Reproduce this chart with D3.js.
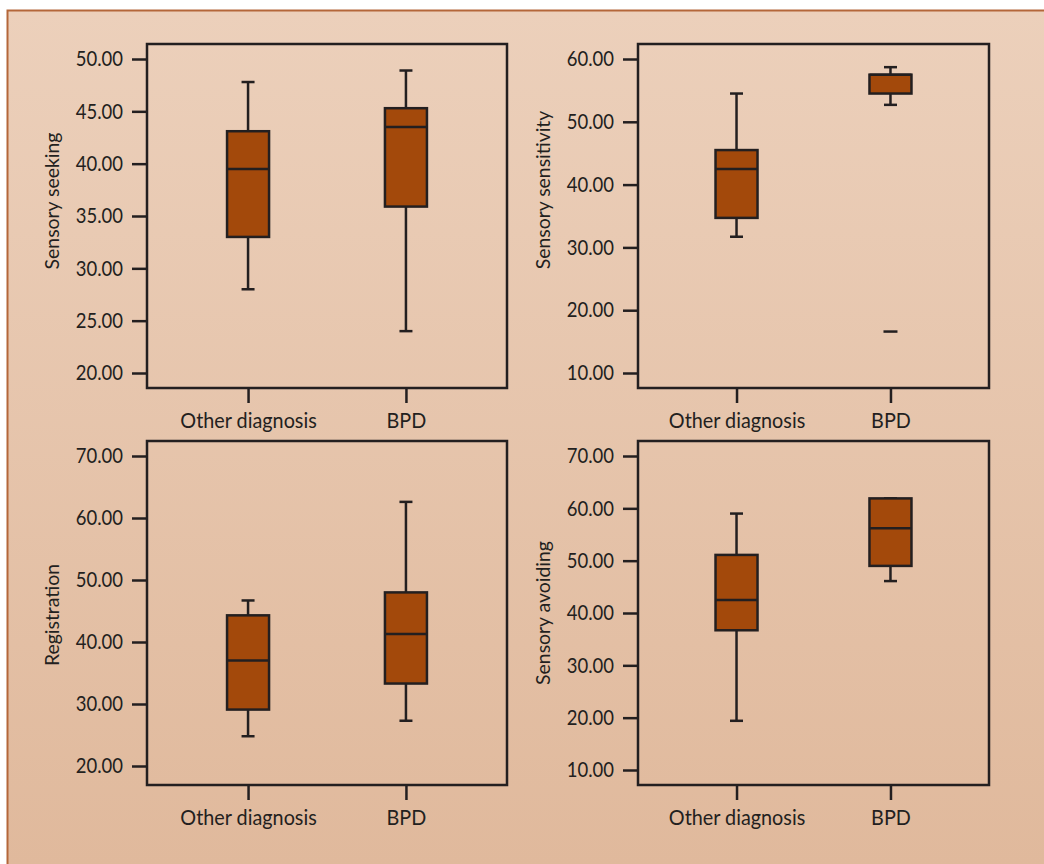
<!DOCTYPE html>
<html>
<head>
<meta charset="utf-8">
<script src="https://cdn.jsdelivr.net/npm/d3@7"></script>
<style>
  body { margin: 0; background: #ffffff; }
  svg { display: block; }
</style>
</head>
<body>
<div id="chart"></div>
<script>
// groups on the x axis of every panel
const groups = ['Other diagnosis', 'BPD']

// box stats per group: [min, q1, median, q3, max]
const seeking = [[28.0, 33.0, 39.5, 43.1, 47.8], [24.0, 35.9, 43.5, 45.3, 48.9]]
const sensitivity = [[31.7, 34.7, 42.5, 45.5, 54.5], [52.7, 54.5, 57.5, 57.5, 58.7]]
const registration = [[24.8, 29.1, 37.0, 44.3, 46.7], [27.3, 33.3, 41.3, 48.0, 62.6]]
const avoiding = [[19.4, 36.7, 42.5, 51.1, 59.0], [46.1, 49.0, 56.2, 61.9, 61.9]]

// outliers per group
const sensitivityOutliers = [[], [16.6]]

// tick values
const seekingTicks = [20, 25, 30, 35, 40, 45, 50]
const sensitivityTicks = [10, 20, 30, 40, 50, 60]
const registrationTicks = [20, 30, 40, 50, 60, 70]
const avoidingTicks = [10, 20, 30, 40, 50, 60, 70]

const W = 1044, H = 864
const ink = '#231f20'
const boxFill = '#a3490b'
const font = 'Lato, "Open Sans", sans-serif'

const panels = [
    {title: 'Sensory seeking', stats: seeking, outliers: [[], []], ticks: seekingTicks,
     x: 147, y: 44, w: 360, h: 344, padT: 15, padB: 15, titleY: 157},
    {title: 'Sensory sensitivity', stats: sensitivity, outliers: sensitivityOutliers, ticks: sensitivityTicks,
     x: 638, y: 44, w: 351, h: 344, padT: 15, padB: 15, titleY: 146},
    {title: 'Registration', stats: registration, outliers: [[], []], ticks: registrationTicks,
     x: 147, y: 441, w: 360, h: 344, padT: 15, padB: 19, titleY: 174},
    {title: 'Sensory avoiding', stats: avoiding, outliers: [[], []], ticks: avoidingTicks,
     x: 638, y: 441, w: 351, h: 344, padT: 15, padB: 15, titleY: 172},
]

const svg = d3.select('#chart').append('svg')
              .attr('width', W)
              .attr('height', H)

const grad = svg.append('defs').append('linearGradient')
                .attr('id', 'bg')
                .attr('x1', 0).attr('y1', 0).attr('x2', 0).attr('y2', 1)
grad.append('stop').attr('offset', '0%').attr('stop-color', '#ecd0bb')
grad.append('stop').attr('offset', '100%').attr('stop-color', '#e0b99c')

svg.append('rect')
   .attr('x', 7).attr('y', 10)
   .attr('width', W - 7).attr('height', H - 10)
   .attr('fill', 'url(#bg)')

svg.append('path')
   .attr('d', `M7.5,${H} L7.5,10.5 L${W},10.5`)
   .attr('fill', 'none')
   .attr('stroke', '#b4673a')
   .attr('stroke-width', 2)

// the original face is a narrow humanist sans, squeeze the glyphs a bit
function condense(sel, k) {
    sel.each(function() {
        const len = this.getComputedTextLength()
        d3.select(this).attr('textLength', len * k).attr('lengthAdjust', 'spacingAndGlyphs')
    })
}

function style_axis(g, size, k) {
    g.select('.domain').remove()
    g.selectAll('.tick line').attr('stroke', ink).attr('stroke-width', 2.5)
    g.selectAll('.tick text')
     .attr('fill', ink)
     .attr('font-family', font)
     .attr('font-size', size)
     .call(condense, k)
}

function draw_panel(p) {
    const g = svg.append('g').attr('transform', `translate(${p.x},${p.y})`)

    const yScale = d3.scaleLinear([p.ticks[0], p.ticks[p.ticks.length - 1]], [p.h - p.padB, p.padT])
    const xScale = d3.scalePoint(groups, [0, p.w]).padding(0.64)

    g.append('g')
     .call(d3.axisLeft(yScale).tickValues(p.ticks).tickFormat(d3.format('.2f')).tickSize(15).tickPadding(9))
     .call(style_axis, 21, 0.88)

    g.append('g')
     .attr('transform', `translate(0,${p.h})`)
     .call(d3.axisBottom(xScale).tickSize(15).tickPadding(9))
     .call(style_axis, 22, 0.9)

    g.append('text')
     .attr('transform', `translate(-95,${p.titleY}) rotate(-90)`)
     .attr('text-anchor', 'middle')
     .attr('dy', '0.35em')
     .attr('fill', ink)
     .attr('font-family', font)
     .attr('font-size', 20)
     .text(p.title)
     .call(condense, 0.97)

    g.append('rect')
     .attr('width', p.w).attr('height', p.h)
     .attr('fill', 'none')
     .attr('stroke', ink)
     .attr('stroke-width', 2.5)

    const boxW = 42, capW = 13
    const box = g.selectAll('.box')
                 .data(p.stats.map((s, i) => ({group: groups[i], s: s, out: p.outliers[i]})))
                 .join('g')
                 .attr('class', 'box')
                 .attr('transform', d => `translate(${xScale(d.group)},0)`)

    // whiskers
    box.append('line')
       .attr('y1', d => yScale(d.s[4])).attr('y2', d => yScale(d.s[0]))
       .attr('stroke', ink).attr('stroke-width', 2.5)
    box.selectAll('.cap')
       .data(d => [d.s[0], d.s[4]])
       .join('line')
       .attr('class', 'cap')
       .attr('x1', -capW / 2).attr('x2', capW / 2)
       .attr('y1', v => yScale(v)).attr('y2', v => yScale(v))
       .attr('stroke', ink).attr('stroke-width', 2.5)

    box.append('rect')
       .attr('x', -boxW / 2).attr('width', boxW)
       .attr('y', d => yScale(d.s[3]))
       .attr('height', d => yScale(d.s[1]) - yScale(d.s[3]))
       .attr('fill', boxFill)
       .attr('stroke', ink).attr('stroke-width', 2.5)

    box.append('line')
       .attr('x1', -boxW / 2).attr('x2', boxW / 2)
       .attr('y1', d => yScale(d.s[2])).attr('y2', d => yScale(d.s[2]))
       .attr('stroke', ink).attr('stroke-width', 2.5)

    box.selectAll('.outlier')
       .data(d => d.out)
       .join('line')
       .attr('class', 'outlier')
       .attr('x1', -capW / 2 - 0.5).attr('x2', capW / 2 + 0.5)
       .attr('y1', v => yScale(v)).attr('y2', v => yScale(v))
       .attr('stroke', ink).attr('stroke-width', 2.5)
}

panels.forEach(draw_panel)
</script>
</body>
</html>
